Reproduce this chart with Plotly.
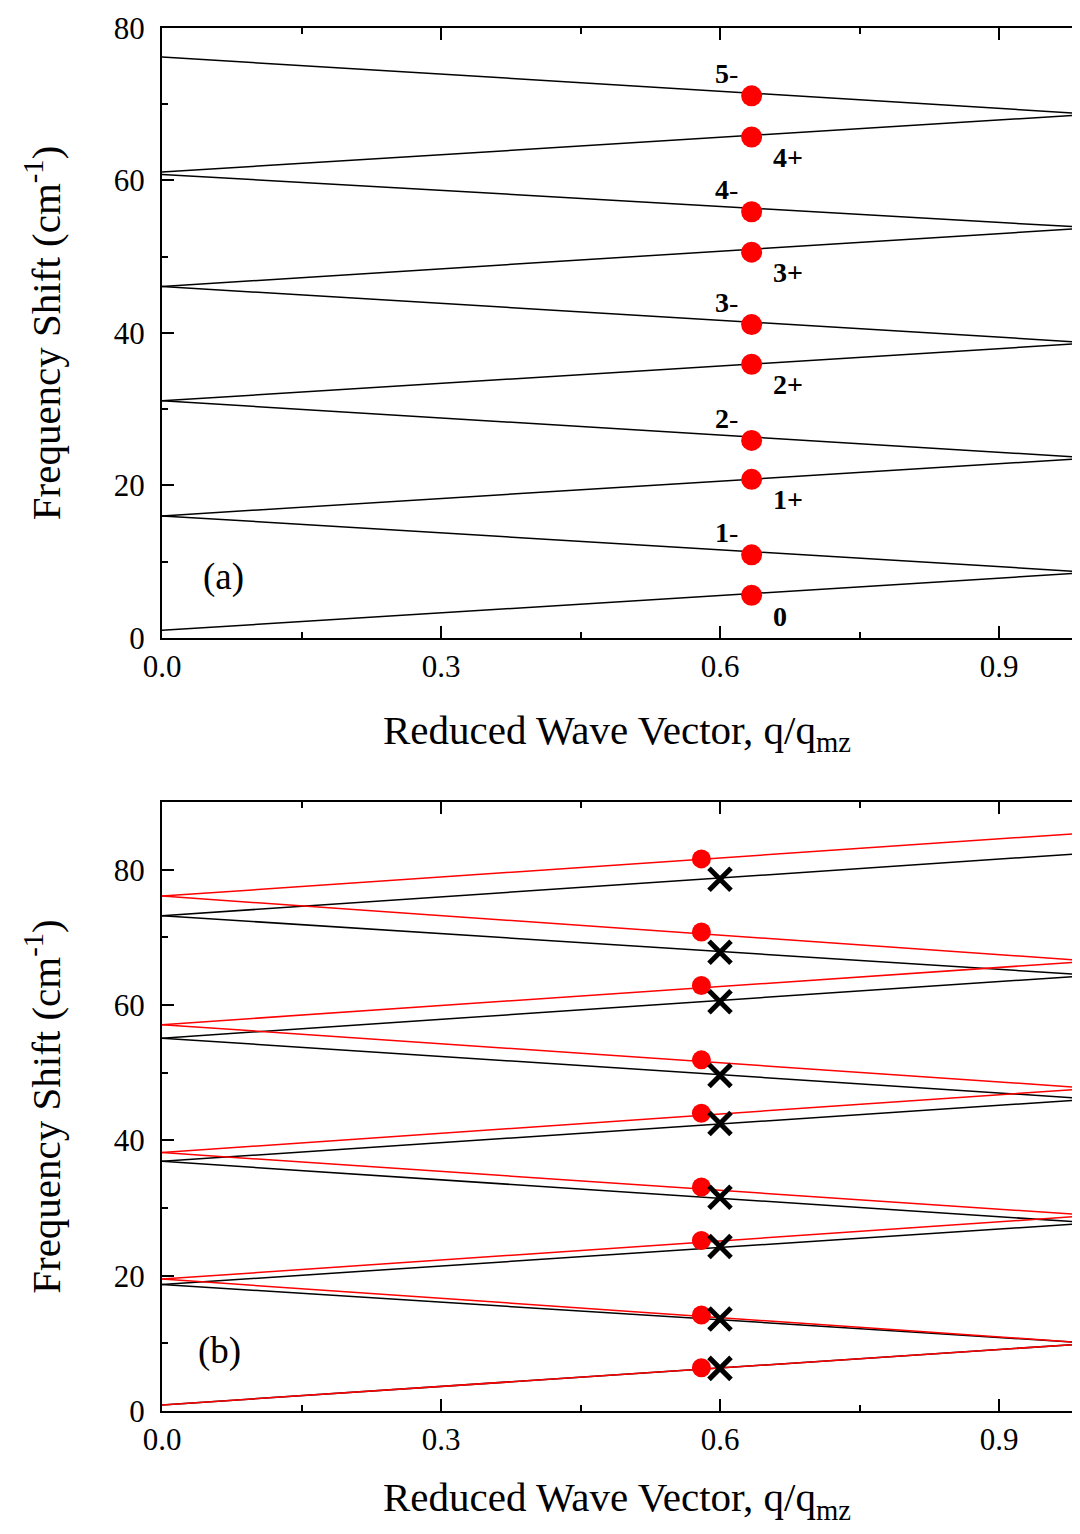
import plotly.graph_objects as go

# ---------------- data ----------------
q_edges = [0.0, 1.0]  # reduced wave vector range of every branch

# panel (a): folded acoustic branches (start value at q=0, end value at q=1)
a_labels = ["0", "1-", "1+", "2-", "2+", "3-", "3+", "4-", "4+", "5-"]
a_start = [1.0, 16.0, 16.0, 31.1, 31.1, 46.1, 46.1, 60.8, 61.1, 76.2]
a_end = [8.6, 8.6, 23.6, 23.6, 38.7, 38.7, 53.8, 53.8, 68.7, 68.7]
a_dot_q = 0.634
a_dot_f = [5.6, 10.9, 20.8, 25.9, 35.9, 41.1, 50.6, 55.9, 65.7, 71.1]

# panel (b): red and black model branches
b_red_start = [0.9, 19.5, 19.5, 38.2, 38.2, 57.1, 57.1, 76.1, 76.1]
b_red_end = [10.0, 10.0, 28.9, 28.9, 47.7, 47.7, 66.5, 66.5, 85.5]
b_blk_start = [0.9, 18.7, 18.7, 36.9, 36.9, 55.1, 55.1, 73.2, 73.2]
b_blk_end = [10.0, 10.0, 27.8, 27.8, 46.1, 46.1, 64.4, 64.4, 82.5]
b_dot_q = 0.58
b_dot_f = [6.4, 14.2, 25.2, 33.1, 44.0, 51.9, 62.9, 70.8, 81.6]
b_x_q = 0.60
b_x_f = [6.3, 13.6, 24.3, 31.6, 42.5, 49.6, 60.5, 67.8, 78.6]

x_ticks = [0.0, 0.3, 0.6, 0.9]
x_minor = [0.15, 0.45, 0.75]
y_ticks = [0, 20, 40, 60, 80]

# ---------------- figure ----------------
FONT = "Liberation Serif"
fig = go.Figure()

for s, e in zip(a_start, a_end):
    fig.add_trace(go.Scatter(x=q_edges, y=[s, e], mode="lines",
                             line=dict(color="black", width=1.5),
                             showlegend=False, xaxis="x", yaxis="y"))
fig.add_trace(go.Scatter(x=[a_dot_q] * len(a_dot_f), y=a_dot_f, mode="markers",
                         marker=dict(color="#ff0000", size=21),
                         showlegend=False, xaxis="x", yaxis="y"))

for s, e in zip(b_blk_start, b_blk_end):
    fig.add_trace(go.Scatter(x=q_edges, y=[s, e], mode="lines",
                             line=dict(color="black", width=1.5),
                             showlegend=False, xaxis="x2", yaxis="y2"))
for s, e in zip(b_red_start, b_red_end):
    fig.add_trace(go.Scatter(x=q_edges, y=[s, e], mode="lines",
                             line=dict(color="#ff0000", width=1.5),
                             showlegend=False, xaxis="x2", yaxis="y2"))
fig.add_trace(go.Scatter(x=[b_dot_q] * len(b_dot_f), y=b_dot_f, mode="markers",
                         marker=dict(color="#ff0000", size=19),
                         showlegend=False, xaxis="x2", yaxis="y2"))
fig.add_trace(go.Scatter(x=[b_x_q] * len(b_x_f), y=b_x_f, mode="markers",
                         marker=dict(symbol="x-thin", size=22,
                                     line=dict(color="black", width=5)),
                         showlegend=False, xaxis="x2", yaxis="y2"))

# branch labels in panel (a)
for lab, f in zip(a_labels, a_dot_f):
    if lab.endswith("-"):
        txt, xs, ys = "<b>%s</b>-" % lab[:-1], -25, 22
    elif lab.endswith("+"):
        txt, xs, ys = "<b>%s+</b>" % lab[:-1], 36, -20
    else:
        txt, xs, ys = "<b>%s</b>" % lab, 28, -21
    fig.add_annotation(x=a_dot_q, y=f, xref="x", yref="y", text=txt,
                       showarrow=False, xshift=xs, yshift=ys,
                       font=dict(family=FONT, size=28, color="black"))

fig.add_annotation(x=0.066, y=8.0, xref="x", yref="y", text="(a)", showarrow=False,
                   font=dict(family=FONT, size=37, color="black"))
fig.add_annotation(x=0.062, y=8.8, xref="x2", yref="y2", text="(b)", showarrow=False,
                   font=dict(family=FONT, size=37, color="black"))

tickfont = dict(family=FONT, size=31, color="black")
titlefont = dict(family=FONT, size=41, color="black")


def xax(anchor):
    return dict(range=[0, 0.9785], tickvals=x_ticks, tickformat=".1f",
                showline=True, linecolor="black", linewidth=2, mirror="ticks",
                ticks="inside", ticklen=12, tickwidth=2, tickcolor="black",
                minor=dict(ticks="inside", ticklen=6, tickwidth=2, tickcolor="black",
                           tickvals=x_minor, showgrid=False),
                showgrid=False, zeroline=False, tickfont=tickfont,
                ticklabelstandoff=0, anchor=anchor,
                title=dict(text="Reduced Wave Vector, q/q<sub>mz</sub>",
                           font=titlefont, standoff=32))


def yax(rng, domain, anchor):
    return dict(range=rng, domain=domain, tickvals=y_ticks,
                showline=True, linecolor="black", linewidth=2, mirror=False,
                ticks="inside", ticklen=12, tickwidth=2, tickcolor="black",
                minor=dict(ticks="inside", ticklen=6, tickwidth=2, tickcolor="black",
                           dtick=10, showgrid=False),
                showgrid=False, zeroline=False, tickfont=tickfont,
                ticklabelstandoff=9, anchor=anchor,
                title=dict(text="Frequency Shift (cm<sup>-1</sup>)",
                           font=titlefont, standoff=40))


fig.update_layout(
    width=1064, height=1518,
    margin=dict(l=154, r=0, t=20, b=115),
    paper_bgcolor="white", plot_bgcolor="white",
    xaxis=xax("y"),
    yaxis=yax([0, 80], [0.559, 1.0], "x"),
    xaxis2=xax("y2"),
    yaxis2=yax([0, 90], [0.0, 0.4403], "x2"),
)

fig.write_html("out.html")
